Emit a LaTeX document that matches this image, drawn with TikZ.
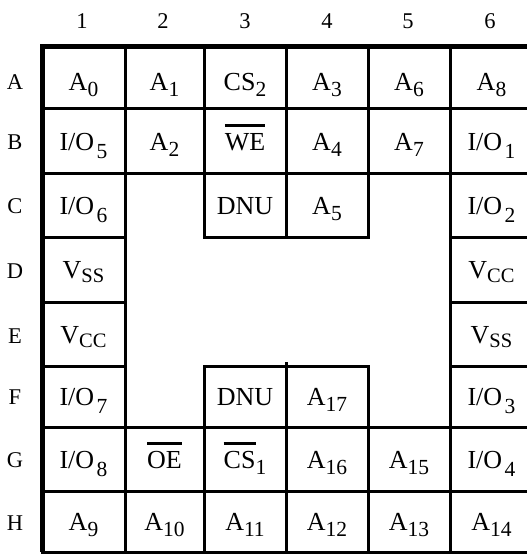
\documentclass[tikz,border=0pt]{standalone}
\usepackage{fontspec}
\setmainfont{Liberation Serif}
\newcommand{\sbs}[1]{\raisebox{-6pt}{\fontsize{21.5}{21.5}\selectfont #1}}
\newcommand{\sbio}[1]{\kern2.5pt\raisebox{-8pt}{\fontsize{21.5}{21.5}\selectfont #1}}
\newcommand{\sbv}[1]{\raisebox{-4.5pt}{\fontsize{20.5}{20.5}\selectfont #1}}
\newcommand{\ovl}[1]{\vbox{\hrule height 3pt\kern 6pt\hbox{#1}}}
\newcommand{\pincell}[7]{%
  \node[cellbox, minimum width={#3-#2}, minimum height={#5-#4}] (#1) at ({(#2+#3)/2},{(#4+#5)/2}) {};
  \node[celltext] (#1t) at ({(#2+#3)/2},#6) {#7};}
\begin{document}
\begin{tikzpicture}[x=1pt,y=-1pt,
  cellbox/.style={draw, line width=3pt, inner sep=0pt, outer sep=0pt},
  celltext/.style={anchor=base, inner sep=0pt, font=\fontsize{26}{26}\selectfont},
  headtext/.style={anchor=base, inner sep=0pt, font=\fontsize{22.5}{22.5}\selectfont},
  gridline/.style={line width=3pt},
  border/.style={line width=5pt}]
\useasboundingbox (0,0) rectangle (527,554);
\clip (0,0) rectangle (527,554);
% column headers
\node[headtext] (h1) at (82,28) {1};
\node[headtext] (h2) at (163,28) {2};
\node[headtext] (h3) at (245,28) {3};
\node[headtext] (h4) at (327,28) {4};
\node[headtext] (h5) at (408,28) {5};
\node[headtext] (h6) at (490,28) {6};
% row labels
\node[headtext] (rA) at (15,89) {A};
\node[headtext] (rB) at (15,149) {B};
\node[headtext] (rC) at (15,213) {C};
\node[headtext] (rD) at (15,278) {D};
\node[headtext] (rE) at (15,343) {E};
\node[headtext] (rF) at (15,404) {F};
\node[headtext] (rG) at (15,467) {G};
\node[headtext] (rH) at (15,530) {H};
% row A
\pincell{A1}{42}{125}{46}{108}{90}{A\sbs{0}}
\pincell{A2}{125}{204}{46}{108}{90}{A\sbs{1}}
\pincell{A3}{204}{286}{46}{108}{90}{CS\sbs{2}}
\pincell{A4}{286}{368}{46}{108}{90}{A\sbs{3}}
\pincell{A5}{368}{450}{46}{108}{90}{A\sbs{6}}
\pincell{A6}{450}{533}{46}{108}{90}{A\sbs{8}}
% row B
\pincell{B1}{42}{125}{108}{173}{150}{I/O\sbio{5}}
\pincell{B2}{125}{204}{108}{173}{150}{A\sbs{2}}
\pincell{B3}{204}{286}{108}{173}{150}{\ovl{WE}}
\pincell{B4}{286}{368}{108}{173}{150}{A\sbs{4}}
\pincell{B5}{368}{450}{108}{173}{150}{A\sbs{7}}
\pincell{B6}{450}{533}{108}{173}{150}{I/O\sbio{1}}
% row C
\pincell{C1}{42}{125}{173}{237}{214}{I/O\sbio{6}}
\pincell{C3}{204}{286}{173}{237}{214}{DNU}
\pincell{C4}{286}{368}{173}{237}{214}{A\sbs{5}}
\pincell{C6}{450}{533}{173}{237}{214}{I/O\sbio{2}}
% row D
\pincell{D1}{42}{125}{237}{302}{278}{V\sbv{SS}}
\pincell{D6}{450}{533}{237}{302}{278}{V\sbv{CC}}
% row E
\pincell{E1}{42}{125}{302}{366}{343}{V\sbv{CC}}
\pincell{E6}{450}{533}{302}{366}{343}{V\sbv{SS}}
% row F
\pincell{F1}{42}{125}{366}{427}{405}{I/O\sbio{7}}
\pincell{F3}{204}{286}{366}{427}{405}{DNU}
\pincell{F4}{286}{368}{366}{427}{405}{A\sbs{17}}
\pincell{F6}{450}{533}{366}{427}{405}{I/O\sbio{3}}
% row G
\pincell{G1}{42}{125}{427}{491}{468}{I/O\sbio{8}}
\pincell{G2}{125}{204}{427}{491}{468}{\ovl{OE}}
\pincell{G3}{204}{286}{427}{491}{468}{\ovl{CS}\sbs{1}}
\pincell{G4}{286}{368}{427}{491}{468}{A\sbs{16}}
\pincell{G5}{368}{450}{427}{491}{468}{A\sbs{15}}
\pincell{G6}{450}{533}{427}{491}{468}{I/O\sbio{4}}
% row H
\pincell{H1}{42}{125}{491}{552}{530}{A\sbs{9}}
\pincell{H2}{125}{204}{491}{552}{530}{A\sbs{10}}
\pincell{H3}{204}{286}{491}{552}{530}{A\sbs{11}}
\pincell{H4}{286}{368}{491}{552}{530}{A\sbs{12}}
\pincell{H5}{368}{450}{491}{552}{530}{A\sbs{13}}
\pincell{H6}{450}{533}{491}{552}{530}{A\sbs{14}}
% small tick above F4
\draw[gridline] (F4.north west) -- ++(0,-4);
% thick outer border (left and top)
\draw[border] (H1.south west) -- (A1.north west) -- (A6.north east);
\end{tikzpicture}
\end{document}
